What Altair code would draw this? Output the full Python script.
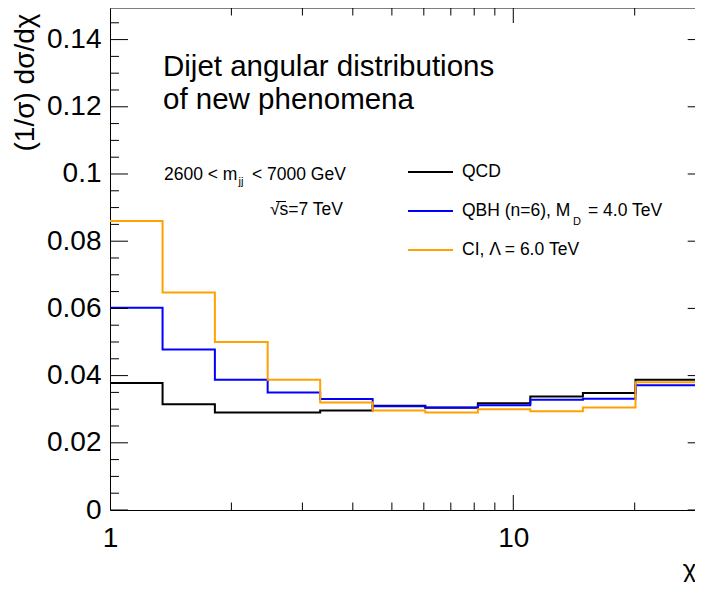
import altair as alt
import pandas as pd

# ---- data ----
edges = [1.0, 1.35, 1.82, 2.46, 3.32, 4.48, 6.05, 8.17, 11.02, 14.88, 20.09, 30.0]
qcd = [0.0378, 0.0315, 0.0290, 0.0290, 0.0296, 0.0310, 0.0305, 0.0318, 0.0338, 0.0348, 0.0388]
qbh = [0.0602, 0.0478, 0.0388, 0.0350, 0.0330, 0.0309, 0.0304, 0.0312, 0.0328, 0.0331, 0.0371]
ci = [0.0860, 0.0647, 0.0500, 0.0388, 0.0320, 0.0296, 0.0290, 0.0300, 0.0294, 0.0305, 0.0380]
series_names = ["QCD", "QBH", "CI"]
series_colors = ["#000000", "#0000ff", "#ffa200"]

x_labels = [1, 10]
x_major = [10]
x_minor = [2, 3, 4, 5, 6, 7, 8, 9, 20]
y_labels = [0, 0.02, 0.04, 0.06, 0.08, 0.1, 0.12, 0.14]
y_minor = [0.005, 0.01, 0.015, 0.025, 0.03, 0.035, 0.045, 0.05, 0.055,
           0.065, 0.07, 0.075, 0.085, 0.09, 0.095, 0.105, 0.11, 0.115,
           0.125, 0.13, 0.135, 0.145]

FONT = "Liberation Sans"
W, H = 585, 502          # plot area visible inside the page (frame itself lies just past the edge)
RX = W + 10.7            # position of the (cut-off) right frame

xs = alt.Scale(type="log", domain=[1, 28.22], nice=False)
ys = alt.Scale(domain=[0, 0.1494], nice=False, zero=False)

xaxis = alt.Axis(values=x_labels, format="~g", labelFontSize=28, labelPadding=14,
                 ticks=False, tickSize=0, domain=True, domainColor="black",
                 domainWidth=1, grid=False, labelFlush=False, labelColor="black",
                 labelFont=FONT, title="χ", titleFont=FONT, titleFontSize=26,
                 titleFontWeight="normal", titleColor="black", titleX=W + 1,
                 titleY=67, titleAlign="right", titleBaseline="alphabetic")
yaxis = alt.Axis(values=y_labels, format="~g", labelFontSize=28, labelPadding=9,
                 ticks=False, tickSize=0, domain=True, domainColor="black",
                 domainWidth=1, grid=False, labelColor="black", labelFont=FONT,
                 title="(1/σ) dσ/dχ", titleFont=FONT, titleFontSize=28,
                 titleFontWeight="normal", titleColor="black", titleAngle=270,
                 titleX=-85, titleY=5, titleAlign="right", titleBaseline="middle")

layers = []

# histogram outlines
for name, vals, col in zip(series_names, [qcd, qbh, ci], series_colors):
    d = pd.DataFrame({
        "chi": edges,
        "value": vals + [vals[-1]],
        "idx": list(range(len(edges))),
    })
    layers.append(
        alt.Chart(d).mark_line(interpolate="step-after", strokeWidth=2, color=col, clip=True)
        .encode(x=alt.X("chi:Q", scale=xs, axis=xaxis),
                y=alt.Y("value:Q", scale=ys, axis=yaxis),
                order="idx:Q")
    )

# tick marks (ROOT style, inside the frame)
def xticks(vals, y1, y2):
    return alt.Chart(pd.DataFrame({"chi": vals})).mark_rule(color="black", strokeWidth=1).encode(
        x=alt.X("chi:Q", scale=xs, axis=xaxis), y=alt.value(y1), y2=alt.value(y2))

def yticks(vals, x1, x2):
    return alt.Chart(pd.DataFrame({"value": vals})).mark_rule(color="black", strokeWidth=1).encode(
        y=alt.Y("value:Q", scale=ys, axis=yaxis), x=alt.value(x1), x2=alt.value(x2))

layers += [
    xticks(x_major, H, H - 15), xticks(x_minor, H, H - 7.5),
    xticks(x_major, 0, 15), xticks(x_minor, 0, 7.5),
    yticks(y_labels, 0, 18), yticks(y_minor, 0, 9),
    yticks(y_labels, RX, RX - 18), yticks(y_minor, RX, RX - 9),
]

one = pd.DataFrame({"a": [0]})

# top frame
layers.append(alt.Chart(one).mark_rule(color="black", strokeWidth=1).encode(
    x=alt.value(0), x2=alt.value(RX), y=alt.value(0)))

def txt(s, x, y, size, align="left", baseline="alphabetic"):
    return alt.Chart(one).mark_text(text=s, font=FONT, fontSize=size, align=align,
                                    baseline=baseline, color="black").encode(
        x=alt.value(x), y=alt.value(y))

layers += [
    txt("Dijet angular distributions", 53, 68, 29.5),
    txt("of new phenomena", 53, 101, 29.5),
    txt("2600 < m", 54, 172, 17.5),
    txt("jj", 128.5, 177, 11),
    txt("< 7000 GeV", 142, 172, 17.5),
    txt("√s=7 TeV", 233, 207, 17.5, align="right"),
]
# overbar of the square root
layers.append(alt.Chart(one).mark_rule(color="black", strokeWidth=1).encode(
    x=alt.value(166), x2=alt.value(176), y=alt.value(193.5)))

# legend
leg_rows = [164, 203, 242]
for yy, col in zip(leg_rows, series_colors):
    layers.append(alt.Chart(one).mark_rule(color=col, strokeWidth=2).encode(
        x=alt.value(298), x2=alt.value(343), y=alt.value(yy)))
layers += [
    txt("QCD", 352, 164, 17.5, baseline="middle"),
    txt("QBH (n=6), M", 352, 203, 17.5, baseline="middle"),
    txt("D", 463, 214, 11, baseline="middle"),
    txt("= 4.0 TeV", 478, 203, 17.5, baseline="middle"),
    txt("CI, Λ = 6.0 TeV", 352, 242, 17.5, baseline="middle"),
]

chart = alt.layer(*layers).properties(
    width=W, height=H,
    autosize=alt.AutoSizeParams(type="none"),
    padding={"left": 102, "top": 0, "right": 0, "bottom": 72},
    background="white",
).configure_view(stroke=None)

chart.save("out.html", embed_options={"renderer": "svg", "actions": False})
